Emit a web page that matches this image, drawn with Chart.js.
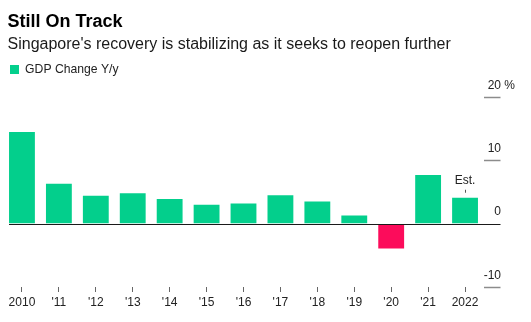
<!DOCTYPE html>
<html>
<head>
<meta charset="utf-8">
<script src="https://cdn.jsdelivr.net/npm/chart.js@4.4.1/dist/chart.umd.min.js"></script>
<style>
  html, body { margin: 0; padding: 0; background: #fff; }
  body { width: 531px; height: 322px; position: relative; overflow: hidden;
         font-family: "Liberation Sans", Arial, sans-serif; }
  #title { position: absolute; left: 7.5px; top: 11.5px; font-size: 18px; line-height: 18px;
           font-weight: bold; color: #000; white-space: nowrap; }
  #subtitle { position: absolute; left: 7.5px; top: 35.5px; font-size: 16px; line-height: 16px;
              color: #1a1a1a; white-space: nowrap; }
  #wrap { position: absolute; left: 0; top: 0; width: 531px; height: 322px; }
</style>
</head>
<body>
<div id="wrap"><canvas id="c" width="531" height="322"></canvas></div>
<div id="title">Still On Track</div>
<div id="subtitle">Singapore's recovery is stabilizing as it seeks to reopen further</div>
<script>
// Annual real GDP growth, percent
const years = ['2010', "'11", "'12", "'13", "'14", "'15", "'16", "'17", "'18", "'19", "'20", "'21", '2022'];
const gdpChange = [14.5, 6.3, 4.4, 4.8, 3.9, 3.0, 3.2, 4.5, 3.5, 1.3, -3.9, 7.7, 4.1];
const yTickValues = [-10, 0, 10, 20];
const seriesName = 'GDP Change Y/y';
const estimateNote = 'Est.';
const estimateIndex = 12;

const GREEN = '#03cf8c';
const RED = '#fc0c5b';
const FONT = '"Liberation Sans", Arial, sans-serif';

// Zero baseline running from the first bar to the end of the axis ticks
const zeroLine = {
  id: 'zeroLine',
  afterDatasetsDraw(chart) {
    const y = chart.scales.y.getPixelForValue(0);
    const first = chart.getDatasetMeta(0).data[0];
    const x0 = first.x - first.width / 2;
    const x1 = chart.chartArea.right + 17;
    const ctx = chart.ctx;
    ctx.save();
    ctx.strokeStyle = '#1a1a1a';
    ctx.lineWidth = 1;
    ctx.beginPath();
    ctx.moveTo(x0, Math.round(y) + 0.5);
    ctx.lineTo(x1, Math.round(y) + 0.5);
    ctx.stroke();
    ctx.restore();
  }
};

// Right-hand value labels sitting above their tick marks
const yLabels = {
  id: 'yLabels',
  afterDraw(chart) {
    const s = chart.scales.y;
    const ctx = chart.ctx;
    const xr = chart.chartArea.right + 17.5;
    ctx.save();
    ctx.font = '12px ' + FONT;
    ctx.fillStyle = '#222';
    ctx.textBaseline = 'alphabetic';
    s.ticks.forEach((t, i) => {
      const y = s.getPixelForValue(t.value) - 8.5;
      ctx.textAlign = 'right';
      ctx.fillText(String(t.value), xr, y);
      if (i === s.ticks.length - 1) {
        ctx.textAlign = 'left';
        ctx.fillText(' %', xr, y);
      }
    });
    ctx.restore();
  }
};

// "Est." marker above the forecast bar
const estimate = {
  id: 'estimate',
  afterDatasetsDraw(chart) {
    const bar = chart.getDatasetMeta(0).data[estimateIndex];
    const ctx = chart.ctx;
    ctx.save();
    ctx.strokeStyle = '#555';
    ctx.lineWidth = 1;
    ctx.beginPath();
    ctx.moveTo(Math.round(bar.x) + 0.5, bar.y - 8);
    ctx.lineTo(Math.round(bar.x) + 0.5, bar.y - 5);
    ctx.stroke();
    ctx.font = '12px ' + FONT;
    ctx.fillStyle = '#222';
    ctx.textAlign = 'center';
    ctx.textBaseline = 'alphabetic';
    ctx.fillText(estimateNote, bar.x, bar.y - 14);
    ctx.restore();
  }
};

new Chart(document.getElementById('c'), {
  type: 'bar',
  data: {
    labels: years,
    datasets: [{
      label: seriesName,
      data: gdpChange,
      backgroundColor: c => (c.raw < 0 ? RED : GREEN),
      borderWidth: 0,
      categoryPercentage: 1,
      barPercentage: 0.7
    }]
  },
  options: {
    responsive: false,
    animation: false,
    devicePixelRatio: 1,
    layout: { padding: { left: 3.5, right: 0, top: 57, bottom: 5 } },
    plugins: {
      legend: {
        position: 'top',
        align: 'start',
        labels: {
          boxWidth: 9,
          boxHeight: 9,
          padding: 6.5,
          color: '#222',
          font: { family: FONT, size: 12.2 }
        }
      },
      tooltip: { enabled: false }
    },
    scales: {
      x: {
        offset: true,
        border: { display: false },
        grid: {
          offset: false,
          drawOnChartArea: false,
          drawTicks: true,
          tickLength: 5,
          tickColor: '#666',
          tickWidth: 1
        },
        ticks: {
          color: '#222',
          padding: 3,
          maxRotation: 0,
          autoSkip: false,
          font: { family: FONT, size: 12 }
        },
        afterFit: s => { s.height = 30; }
      },
      y: {
        position: 'right',
        min: -10,
        max: 21.8,
        border: { display: false },
        grid: {
          drawOnChartArea: false,
          drawTicks: true,
          tickLength: 17,
          tickWidth: 1.5,
          tickColor: c => (c.tick && c.tick.value === 0 ? 'rgba(0,0,0,0)' : '#8c8c8c')
        },
        ticks: { display: false, stepSize: 10, includeBounds: false },
        afterBuildTicks: s => { s.ticks = yTickValues.map(v => ({ value: v })); },
        afterFit: s => { s.width = 47.5; }
      }
    }
  },
  plugins: [zeroLine, estimate, yLabels]
});
</script>
</body>
</html>
